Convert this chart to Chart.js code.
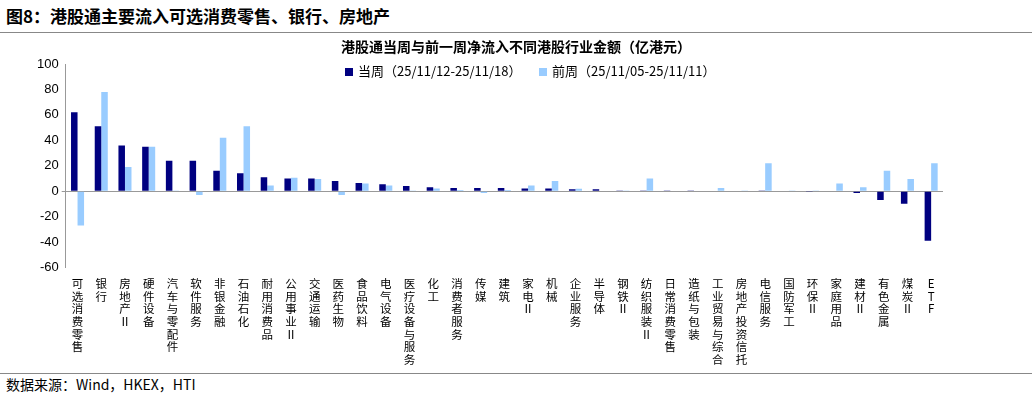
<!DOCTYPE html><html><head><meta charset="utf-8">
<script src="https://cdn.jsdelivr.net/npm/chart.js@4"></script>
<style>
body{margin:0;width:1032px;height:400px;background:#fff;font-family:"Noto Sans CJK SC",sans-serif;position:relative;overflow:hidden}
#t{position:absolute;left:6px;top:3px;font-size:17px;font-weight:bold;color:#000}
#l1{position:absolute;left:0;top:32px;width:1032px;height:1px;background:#888}
#l2{position:absolute;left:0;top:373px;width:1032px;height:1px;background:#888}
#s{position:absolute;left:6px;top:374px;font-size:14px;color:#000}
#ct{position:absolute;left:0;top:36px;width:1032px;text-align:center;font-size:14px;font-weight:bold;color:#000}
#lg{position:absolute;left:345px;top:61px;font-size:13px;color:#000;white-space:nowrap}
#lg span.b{display:inline-block;width:8px;height:8px;margin-right:5px}
#c{position:absolute;left:0;top:36px;width:1000px;height:332px}
</style></head><body>
<div id="t">图8：港股通主要流入可选消费零售、银行、房地产</div><div id="l1"></div>
<div id="c"><canvas id="cv"></canvas></div>
<div id="ct">港股通当周与前一周净流入不同港股行业金额（亿港元）</div>
<div id="lg"><span class="b" style="background:#000080"></span>当周（25/11/12-25/11/18）&nbsp;&nbsp;&nbsp;&nbsp;&nbsp;&nbsp;<span class="b" style="background:#99ccff"></span>前周（25/11/05-25/11/11）</div>
<div id="l2"></div><div id="s">数据来源：Wind，HKEX，HTI</div>
<script>
const categories=["可选消费零售","银行","房地产Ⅱ","硬件设备","汽车与零配件","软件服务","非银金融","石油石化","耐用消费品","公用事业Ⅱ","交通运输","医药生物","食品饮料","电气设备","医疗设备与服务","化工","消费者服务","传媒","建筑","家电Ⅱ","机械","企业服务","半导体","钢铁Ⅱ","纺织服装Ⅱ","日常消费零售","造纸与包装","工业贸易与综合","房地产投资信托","电信服务","国防军工","环保Ⅱ","家庭用品","建材Ⅱ","有色金属","煤炭Ⅱ","ETF"];
const currentWeek=[62,51,36,35,24,24,16,14,11,10,10,8,6.5,5.5,4,3,2.5,2.5,2.5,2,2,1.5,1.5,0.5,0.5,0.2,0.2,0.3,0,0.2,0,-0.3,-0.5,-1.5,-7,-10,-39];
const prevWeek=[-27,78,19,35,0.5,-3,42,51,4.5,10.5,9.5,-3,6,4.5,0.5,2,1,-1.5,1,4.5,8,1.8,0.3,0.5,10,0.3,0.3,2.5,0.2,22,0.2,0.5,6,3,16,9.5,22];
const yTicks=[100,80,60,40,20,0,-20,-40,-60];
const labels=categories.map(c=>c==="ETF"?["E","T","F"]:Array.from(c));
new Chart(document.getElementById('cv'),{type:'bar',
data:{labels:labels,datasets:[
{label:'当周（25/11/12-25/11/18）',data:currentWeek,backgroundColor:'#000080',categoryPercentage:0.55,barPercentage:1},
{label:'前周（25/11/05-25/11/11）',data:prevWeek,backgroundColor:'#99ccff',categoryPercentage:0.55,barPercentage:1}]},
options:{responsive:true,maintainAspectRatio:false,animation:false,
layout:{padding:{left:34,right:57,top:28}},
plugins:{title:{display:false},legend:{display:false},tooltip:{enabled:false}},
scales:{
x:{grid:{display:false},border:{display:false},ticks:{autoSkip:false,maxRotation:0,minRotation:0,color:'#000',font:{size:11.5,family:'Noto Sans CJK SC',lineHeight:1.1},padding:2}},
y:{min:-60,max:100,afterBuildTicks:a=>{a.ticks=yTicks.map(v=>({value:v}))},grid:{drawTicks:true,tickLength:4,color:c=>c.tick&&c.tick.value===0?'#999':'rgba(0,0,0,0)'},border:{display:true,color:'#999'},ticks:{color:'#000',font:{size:13,family:'Liberation Sans'}}}}}});
</script></body></html>
